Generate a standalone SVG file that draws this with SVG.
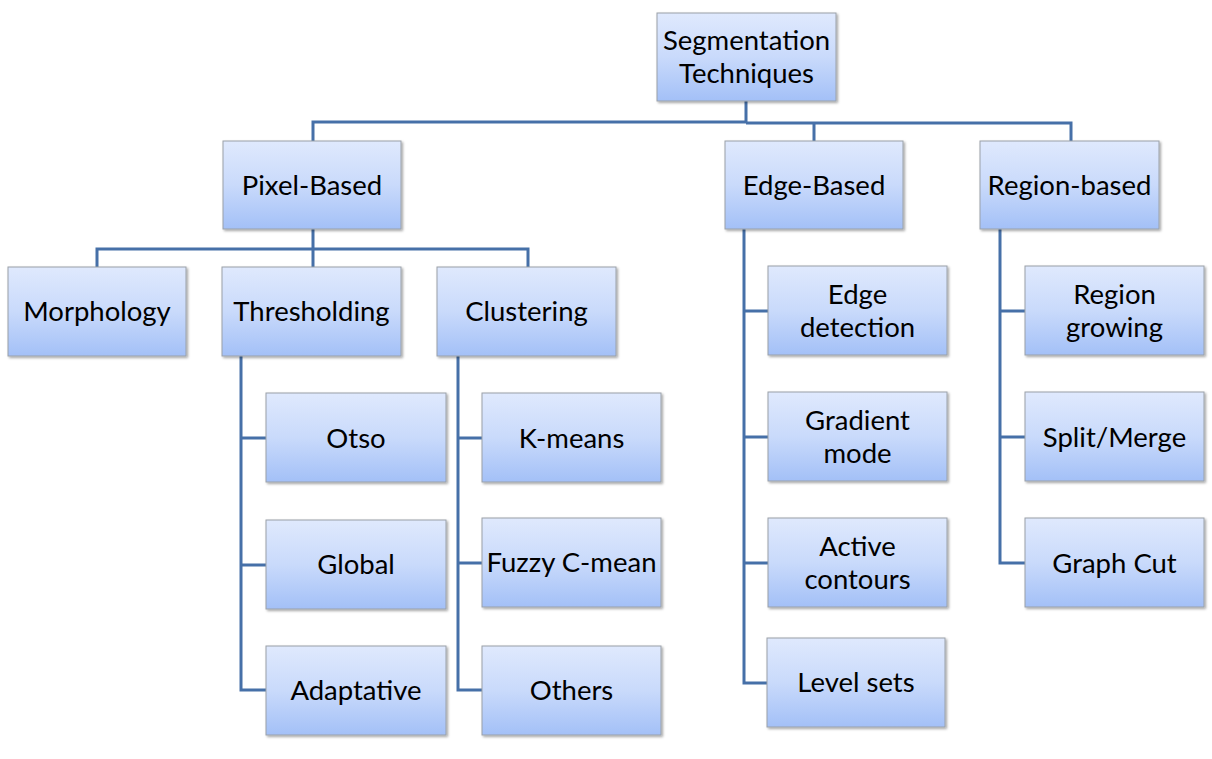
<svg xmlns="http://www.w3.org/2000/svg" width="1212" height="759" viewBox="0 0 1212 759">
<defs>
<linearGradient id="g" x1="0" y1="0" x2="0" y2="1">
<stop offset="0" stop-color="#dfe9fd"/>
<stop offset="0.5" stop-color="#c9dafb"/>
<stop offset="1" stop-color="#a3c0f7"/>
</linearGradient>
<filter id="sh" x="-10%" y="-10%" width="130%" height="130%">
<feDropShadow dx="1.5" dy="1.5" stdDeviation="1.2" flood-color="#000" flood-opacity="0.35"/>
</filter>
</defs>
<style>
.b{fill:url(#g);stroke:#9aa0a8;stroke-width:1;filter:url(#sh)}
.t{font-family:Lato,"Open Sans",sans-serif;font-size:27.5px;fill:#000;text-anchor:middle}
.c{fill:none;stroke:#4670a8;stroke-width:3}
</style>
<rect width="1212" height="759" fill="#fff"/>
<g id="connectors">
<path class="c" d="M746 101V122M313 141V122H746M746 123H1071V141M814 123V141"/>
<path class="c" d="M313 229V249M97 267V249H528V267M313 249V267"/>
<path class="c" d="M241 356V690H266M241 438H266M241 565H266"/>
<path class="c" d="M458 356V690H482M458 438H482M458 563H482"/>
<path class="c" d="M744 229V683H767M744 311H768M744 437H768M744 563H768"/>
<path class="c" d="M1000 229V563H1025M1000 311H1025M1000 437H1025"/>
</g>
<g id="root"><rect class="b" x="657" y="13" width="179" height="88"/><text class="t" x="746.5" y="50">Segmentation</text><text class="t" x="746.5" y="83">Techniques</text></g>
<g id="pixel"><rect class="b" x="223" y="141" width="178" height="88"/><text class="t" x="312" y="195">Pixel-Based</text></g>
<g id="edge"><rect class="b" x="725" y="141" width="178" height="88"/><text class="t" x="814" y="195">Edge-Based</text></g>
<g id="region"><rect class="b" x="980" y="141" width="179" height="88"/><text class="t" x="1069.5" y="195">Region-based</text></g>
<g id="morphology"><rect class="b" x="8" y="267" width="178" height="89"/><text class="t" x="97" y="321">Morphology</text></g>
<g id="thresholding"><rect class="b" x="222" y="267" width="179" height="89"/><text class="t" x="311.5" y="321">Thresholding</text></g>
<g id="clustering"><rect class="b" x="437" y="267" width="179" height="89"/><text class="t" x="526.5" y="321">Clustering</text></g>
<g id="otso"><rect class="b" x="266" y="393" width="180" height="89"/><text class="t" x="356" y="448">Otso</text></g>
<g id="global"><rect class="b" x="266" y="520" width="180" height="89"/><text class="t" x="356" y="574">Global</text></g>
<g id="adaptative"><rect class="b" x="266" y="646" width="180" height="89"/><text class="t" x="356" y="700">Adaptative</text></g>
<g id="kmeans"><rect class="b" x="482" y="393" width="179" height="89"/><text class="t" x="571.5" y="448">K-means</text></g>
<g id="fuzzy"><rect class="b" x="482" y="518" width="179" height="89"/><text class="t" x="571.5" y="572">Fuzzy C-mean</text></g>
<g id="others"><rect class="b" x="482" y="646" width="179" height="89"/><text class="t" x="571.5" y="700">Others</text></g>
<g id="edgedetection"><rect class="b" x="768" y="266" width="179" height="89"/><text class="t" x="857.5" y="304">Edge</text><text class="t" x="857.5" y="337">detection</text></g>
<g id="gradient"><rect class="b" x="768" y="392" width="179" height="89"/><text class="t" x="857.5" y="430">Gradient</text><text class="t" x="857.5" y="463">mode</text></g>
<g id="active"><rect class="b" x="768" y="518" width="179" height="89"/><text class="t" x="857.5" y="556">Active</text><text class="t" x="857.5" y="589">contours</text></g>
<g id="levelsets"><rect class="b" x="767" y="638" width="178" height="89"/><text class="t" x="856" y="692">Level sets</text></g>
<g id="regiongrowing"><rect class="b" x="1025" y="266" width="179" height="89"/><text class="t" x="1114.5" y="304">Region</text><text class="t" x="1114.5" y="337">growing</text></g>
<g id="split"><rect class="b" x="1025" y="392" width="179" height="89"/><text class="t" x="1114.5" y="447">Split/Merge</text></g>
<g id="graphcut"><rect class="b" x="1025" y="518" width="179" height="89"/><text class="t" x="1114.5" y="573">Graph Cut</text></g>
</svg>
